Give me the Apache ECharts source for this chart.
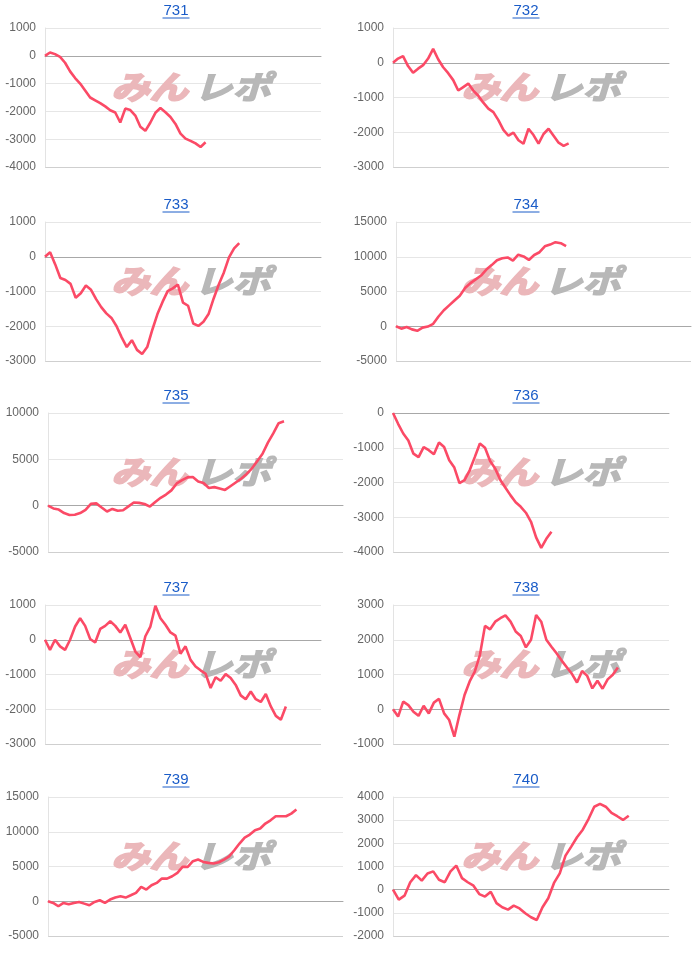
<!DOCTYPE html>
<html><head><meta charset="utf-8">
<script src="https://cdn.jsdelivr.net/npm/echarts@6/dist/echarts.min.js"></script>
<style>html,body{margin:0;padding:0;background:#fff}#c{width:700px;height:960px}</style>
</head><body><div id="c"></div>
<script>
const titles = ['731','732','733','734','735','736','737','738','739','740'];
const s731 = [0,120,60,-40,-250,-560,-800,-1000,-1250,-1500,-1600,-1700,-1820,-1960,-2040,-2400,-1900,-1950,-2150,-2550,-2700,-2400,-2050,-1880,-2030,-2200,-2450,-2800,-2980,-3060,-3150,-3280,-3110];
const s732 = [0,120,190,-95,-290,-170,-70,120,400,100,-130,-300,-500,-800,-700,-600,-800,-950,-1150,-1320,-1420,-1650,-1930,-2100,-2010,-2230,-2330,-1900,-2080,-2330,-2050,-1900,-2100,-2300,-2390,-2320];
const s733 = [0,130,-220,-610,-670,-780,-1180,-1050,-830,-950,-1220,-1450,-1630,-1760,-2000,-2320,-2600,-2400,-2680,-2800,-2600,-2100,-1650,-1300,-990,-910,-800,-1320,-1410,-1920,-1990,-1870,-1650,-1200,-800,-450,-20,240,390];
const s734 = [0,-350,-100,-450,-650,-200,-50,350,1400,2300,3000,3700,4400,5500,6200,6750,7300,8150,8800,9500,9780,9900,9450,10300,10050,9540,10250,10650,11500,11750,12100,11950,11520];
const s735 = [0,-300,-420,-800,-1000,-980,-800,-450,200,250,-200,-630,-350,-550,-500,-80,340,300,180,-100,400,850,1200,1650,2400,2750,3050,3100,2620,2450,1900,2000,1850,1700,2100,2500,2900,3400,4000,4800,5600,6800,7800,8900,9100];
const s736 = [0,-310,-590,-790,-1170,-1270,-980,-1070,-1190,-850,-980,-1360,-1570,-2020,-1930,-1650,-1270,-880,-1000,-1380,-1600,-1930,-2150,-2370,-2570,-2700,-2870,-3130,-3580,-3880,-3620,-3420];
const s737 = [0,-290,0,-190,-290,0,380,620,400,20,-80,310,400,530,400,210,430,50,-340,-500,100,380,980,620,430,210,120,-400,-190,-580,-770,-880,-980,-1390,-1080,-1180,-990,-1100,-1300,-1600,-1710,-1490,-1710,-1790,-1560,-1920,-2190,-2300,-1920];
const s738 = [0,-210,220,120,-70,-190,100,-120,190,300,-120,-310,-790,-160,410,800,1080,1560,2400,2300,2520,2620,2700,2520,2240,2110,1780,2000,2710,2520,2000,1800,1610,1400,1210,1020,770,1100,960,600,820,590,860,990,1200];
const s739 = [0,-240,-720,-240,-430,-240,-100,-340,-580,-100,140,-240,240,530,720,530,860,1200,2060,1680,2300,2640,3260,3260,3600,4080,4940,4940,5760,6000,5660,5520,5420,5610,6000,6470,7340,8300,9160,9590,10220,10460,11180,11650,12230,12230,12230,12610,13190];
const s740 = [0,-430,-260,320,630,390,700,790,430,320,790,1040,500,320,170,-190,-300,-90,-580,-760,-860,-690,-810,-1020,-1190,-1310,-760,-370,290,700,1470,1860,2260,2590,3050,3580,3700,3580,3310,3170,3010,3190];
const seriesData = [s731,s732,s733,s734,s735,s736,s737,s738,s739,s740];
const yMin  = [-4000,-3000,-3000,-5000,-5000,-4000,-3000,-1000,-5000,-2000];
const yMax  = [1000,1000,1000,15000,10000,0,1000,3000,15000,4000];
const yStep = [1000,1000,1000,5000,5000,1000,1000,1000,5000,1000];
const xMax  = [55,55,54,55.5,55,54,55,54,57,48];

const rowTop = [28,222,413,605,797];
const plotH = 139;
const LINK = '#1a5cc8';
const grids=[],xAxes=[],yAxes=[],series=[],graphics=[];
for(let i=0;i<10;i++){
  const col=i%2,row=Math.floor(i/2);
  const wide = yMax[i]>=10000;
  const left = col===0 ? (wide?48:45) : (wide?396:393);
  const width = wide ? 295 : 276;
  const top = rowTop[row];
  grids.push({left:left,top:top,width:width,height:plotH,containLabel:false});
  const nLines = Math.round((yMax[i]-yMin[i])/yStep[i])+1;
  const cols = ['#cfcfcf']; for(let k=1;k<nLines;k++) cols.push('#e6e6e6');
  yAxes.push({type:'value',gridIndex:i,min:yMin[i],max:yMax[i],interval:yStep[i],
    axisLine:{show:true,lineStyle:{color:'#e3e3e3',width:1}},axisTick:{show:false},
    axisLabel:{color:'#666',fontSize:12,fontFamily:'Liberation Sans, Arial, sans-serif',margin:9,
      formatter:v=>String(v)},
    splitLine:{show:true,lineStyle:{color:cols,width:1}}});
  xAxes.push({type:'value',gridIndex:i,min:0,max:xMax[i],
    axisLine:{show:true,onZero:true,lineStyle:{color:'#a8a8a8',width:1}},
    axisTick:{show:false},axisLabel:{show:false},splitLine:{show:false}});
  series.push({type:'line',xAxisIndex:i,yAxisIndex:i,data:seriesData[i].map((v,k)=>[k,v]),
    symbol:'none',smooth:false,z:5,lineStyle:{color:'#fb4a66',width:2.6},silent:true});
  const cx = col===0?176:526;
  const cy = top-17;
  graphics.push({type:'text',x:cx,y:cy,style:{text:titles[i],fill:LINK,
    font:'15px "Liberation Sans", Arial, sans-serif',textAlign:'center',textVerticalAlign:'middle'}});
  graphics.push({type:'line',shape:{x1:cx-13.5,y1:cy+7,x2:cx+13.5,y2:cy+7},style:{stroke:LINK,lineWidth:1}});
  const wx = col===0?191:541, wy = top+59;
  graphics.push({type:'text',x:wx-3,y:wy,z:3,scaleX:1.2,style:{text:'みん',fill:'#ebb7ba',stroke:'#ebb7ba',lineWidth:2,
    font:'italic bold 32px "Noto Sans CJK JP"',textAlign:'right',textVerticalAlign:'middle'}});
  graphics.push({type:'text',x:wx+3,y:wy,z:3,scaleX:1.2,style:{text:'レポ',fill:'#b8b8b8',stroke:'#b8b8b8',lineWidth:1.5,
    font:'italic bold 32px "Noto Sans CJK JP"',textAlign:'left',textVerticalAlign:'middle'}});
}
const chart = echarts.init(document.getElementById('c'),null,{renderer:'canvas'});
chart.setOption({animation:false,backgroundColor:'#fff',grid:grids,xAxis:xAxes,yAxis:yAxes,series:series,graphic:graphics});
</script></body></html>
